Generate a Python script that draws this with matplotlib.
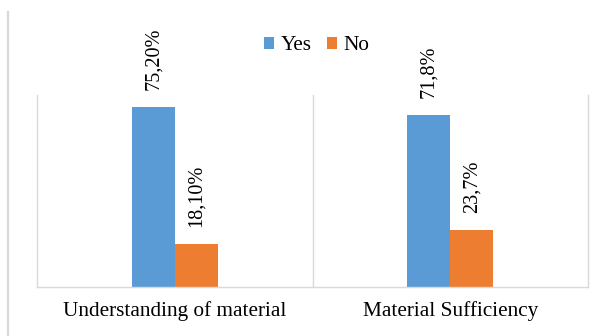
import matplotlib.pyplot as plt
from matplotlib.lines import Line2D
import numpy as np

categories = ['Understanding of material', 'Material Sufficiency']
yes_values = [75.2, 71.8]
no_values = [18.1, 23.7]
yes_labels = ['75,20%', '71,8%']
no_labels = ['18,10%', '23,7%']

blue = '#5B9BD5'
orange = '#ED7D31'
grid_color = '#D9D9D9'

plt.rcParams['font.family'] = ['Liberation Serif', 'DejaVu Serif']

fig = plt.figure(figsize=(6.14, 3.36), dpi=100)
ax = fig.add_axes([0.0603, 0.1458, 0.8974, 0.5715])

x = np.arange(len(categories))
width = 0.156

#Plot the bars.
bars_yes = ax.bar(x - width / 2, yes_values, width, color=blue, label='Yes')
bars_no = ax.bar(x + width / 2, no_values, width, color=orange, label='No')

#Data labels, rotated.
for bars, labels in ((bars_yes, yes_labels), (bars_no, no_labels)):
    for bar, text in zip(bars, labels):
        ax.annotate(text, (bar.get_x() + bar.get_width() / 2, bar.get_height()),
                    xytext=(0, 12), textcoords='offset points',
                    ha='center', va='bottom', rotation=90, fontsize=14.6)

#Format plot.
ax.set_xlim(-0.5, len(categories) - 0.5)
ax.set_ylim(0, 80)
ax.set_yticks([])
ax.set_xticks(x)
ax.set_xticklabels(categories, fontsize=15.3)
ax.tick_params(axis='x', length=0, pad=10)
ax.set_xticks(np.arange(len(categories) - 1) + 0.5, minor=True)
ax.tick_params(axis='x', which='minor', length=0)
ax.grid(axis='x', which='minor', color=grid_color, linewidth=1)
ax.set_axisbelow(True)

ax.spines['top'].set_visible(False)
for side in ('left', 'right', 'bottom'):
    ax.spines[side].set_color(grid_color)
    ax.spines[side].set_linewidth(1)

fig.legend(loc='center', bbox_to_anchor=(316.5 / 614, 1 - 46 / 336), ncol=2,
           frameon=False, fontsize=15.3, handlelength=0.5, handleheight=0.5,
           handletextpad=0.3, columnspacing=0.7)

#Chart border line on the left.
fig.add_artist(Line2D([8 / 614, 8 / 614], [0, 1 - 12 / 336],
                      color=grid_color, linewidth=1.6))

fig.savefig('out.png', dpi=100)
